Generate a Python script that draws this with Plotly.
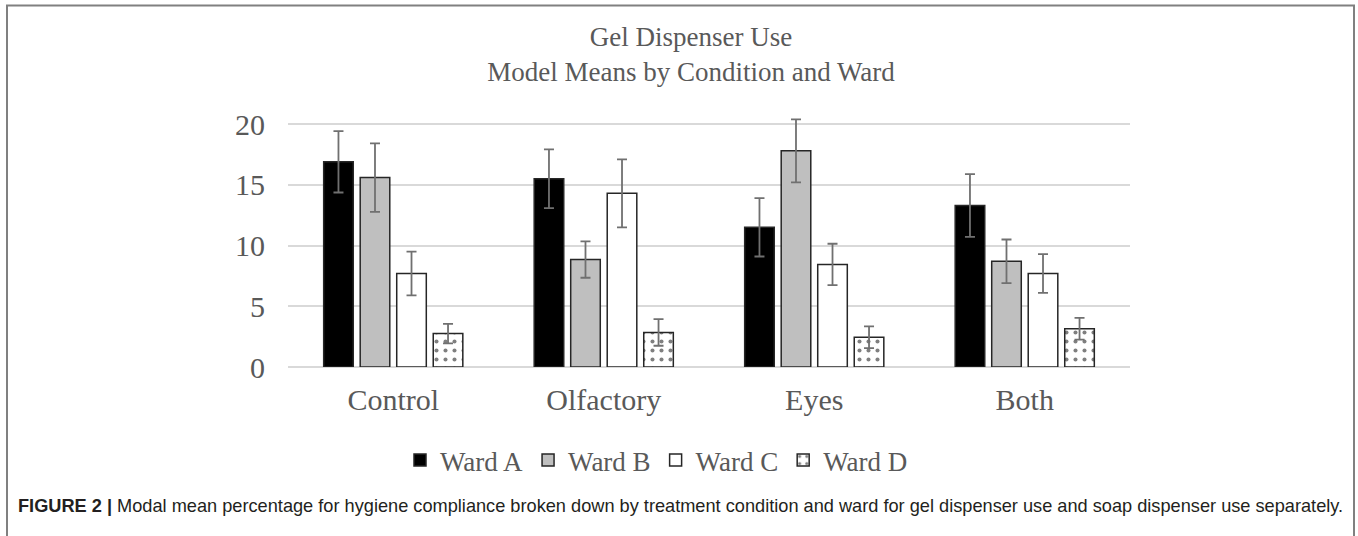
import plotly.graph_objects as go

# ---- data ----
conditions = ["Control", "Olfactory", "Eyes", "Both"]
wards = ["Ward A", "Ward B", "Ward C", "Ward D"]
ward_a = [16.9, 15.5, 11.5, 13.3]
ward_b = [15.6, 8.85, 17.8, 8.7]
ward_c = [7.7, 14.3, 8.45, 7.7]
ward_d = [2.75, 2.85, 2.45, 3.15]
err_a = [2.53, 2.42, 2.4, 2.58]
err_b = [2.82, 1.5, 2.6, 1.8]
err_c = [1.8, 2.8, 1.7, 1.6]
err_d = [0.8, 1.1, 0.9, 0.9]
y_ticks = [0, 5, 10, 15, 20]

W, H = 1358, 536
L, R = 288, 1130          # plot area in px
Y0PX = 366.7              # pixel of value 0
YMAX = 21
PX_PER = 12.12
TOP = Y0PX - YMAX * PX_PER


def px_x(px):
    return (px - L) / (R - L)


def px_y(py):
    return (Y0PX - py) / (Y0PX - TOP)


TXT = "#595959"
SERIF = "Liberation Serif, Times New Roman, serif"
EDGE = "#262626"
ERRC = "#707070"

series = [
    (wards[0], ward_a, err_a, dict(color="#000000")),
    (wards[1], ward_b, err_b, dict(color="#bfbfbf")),
    (wards[2], ward_c, err_c, dict(color="#ffffff")),
    (wards[3], ward_d, err_d, dict(color="#ffffff",
                                   pattern=dict(shape=".", fgcolor="#000000",
                                                bgcolor="#ffffff", size=9,
                                                solidity=0.16, fillmode="overlay"))),
]

fig = go.Figure()
for name, vals, errs, mk in series:
    marker = dict(mk)
    marker["line"] = dict(color=EDGE, width=1.5)
    fig.add_trace(go.Bar(
        name=name, x=conditions, y=vals, marker=marker,
        error_y=dict(type="data", array=errs, visible=True,
                     color=ERRC, thickness=1.8, width=5),
    ))

fig.update_layout(
    width=W, height=H,
    margin=dict(l=L, r=W - R, t=TOP, b=H - Y0PX, pad=0),
    paper_bgcolor="white", plot_bgcolor="white",
    barmode="group", bargap=0.306, bargroupgap=0.19,
    font=dict(family=SERIF, color=TXT),
    title=dict(text="Gel Dispenser Use<br>Model Means by Condition and Ward",
               x=691 / W, xref="container", xanchor="center",
               y=1 - 46 / H, yref="container", yanchor="top",
               font=dict(family=SERIF, size=27, color=TXT)),
    legend=dict(orientation="h", x=px_x(400), y=px_y(460),
                xanchor="left", yanchor="middle",
                font=dict(family=SERIF, size=27, color=TXT),
                itemclick=False, traceorder="normal"),
    showlegend=True,
)
fig.update_xaxes(showgrid=False, showline=False, ticks="",
                 tickfont=dict(family=SERIF, size=30, color=TXT),
                 ticklabelstandoff=12)
fig.update_yaxes(range=[0, YMAX], tickvals=y_ticks, showgrid=True,
                 gridcolor="#d9d9d9", gridwidth=1.5, zeroline=True,
                 zerolinecolor="#d9d9d9", zerolinewidth=1.5, showline=False,
                 ticks="", tickfont=dict(family=SERIF, size=30, color=TXT),
                 ticklabelstandoff=22)

# frame around the figure
fig.add_shape(type="rect", xref="paper", yref="paper",
              x0=px_x(7), x1=px_x(1354), y0=px_y(560), y1=px_y(6),
              line=dict(color="#808080", width=2), fillcolor="rgba(0,0,0,0)",
              layer="below")

fig.add_annotation(
    xref="paper", yref="paper", x=px_x(16), y=px_y(505),
    xanchor="left", yanchor="middle", showarrow=False,
    text="<b>FIGURE 2 |</b> Modal mean percentage for hygiene compliance broken down by treatment condition and ward for gel dispenser use and soap dispenser use separately.",
    font=dict(family="Liberation Sans, Arial, sans-serif", size=18.2, color="#231f20"),
)

fig.write_html(
    "out.html",
    config={"displayModeBar": False},
    post_script="document.body.style.margin='0';document.body.style.padding='0';",
)
